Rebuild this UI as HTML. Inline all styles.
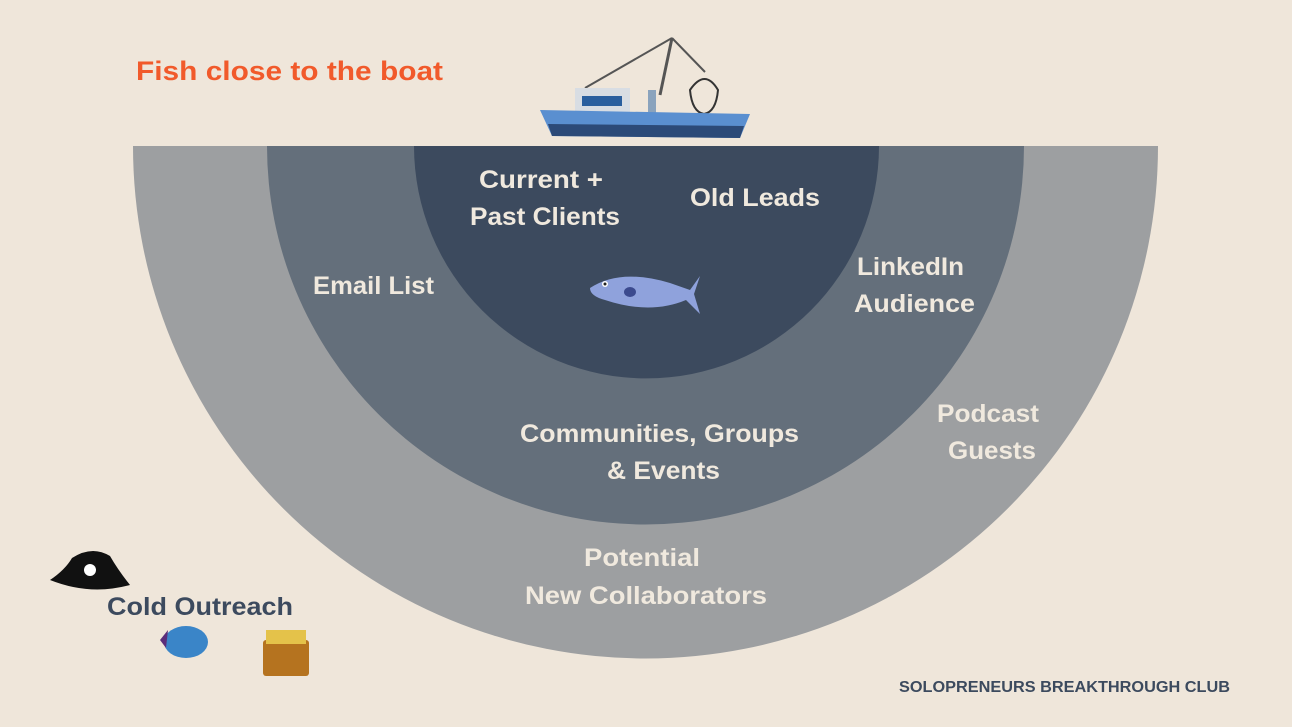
<!DOCTYPE html>
<html><head><meta charset="utf-8"><style>
html,body{margin:0;padding:0;background:#efe6da;}
svg{display:block}
text{font-family:"Liberation Sans",sans-serif;}
</style></head><body>
<svg width="1292" height="727" viewBox="0 0 1292 727" xmlns="http://www.w3.org/2000/svg">
<rect width="1292" height="727" fill="#efe6da"/>
<path d="M133 146 A512.5 512.5 0 0 0 1158 146 Z" fill="#9d9fa1"/>
<path d="M267 146 A378.5 378.5 0 0 0 1024 146 Z" fill="#646f7b"/>
<path d="M414 146 A232.5 232.5 0 0 0 879 146 Z" fill="#3c4a5e"/>
<text x="136" y="80" font-size="27" font-weight="bold" fill="#f15a2b" textLength="307" lengthAdjust="spacingAndGlyphs">Fish close to the boat</text>
<g fill="#f0e9de" font-size="25" font-weight="bold" lengthAdjust="spacingAndGlyphs">
<text x="479" y="188" textLength="124" lengthAdjust="spacingAndGlyphs">Current +</text>
<text x="470" y="225" textLength="150" lengthAdjust="spacingAndGlyphs">Past Clients</text>
<text x="690" y="206" textLength="130" lengthAdjust="spacingAndGlyphs">Old Leads</text>
<text x="313" y="294" textLength="121" lengthAdjust="spacingAndGlyphs">Email List</text>
<text x="857" y="275" textLength="107" lengthAdjust="spacingAndGlyphs">LinkedIn</text>
<text x="854" y="312" textLength="121" lengthAdjust="spacingAndGlyphs">Audience</text>
<text x="520" y="442" textLength="279" lengthAdjust="spacingAndGlyphs">Communities, Groups</text>
<text x="607" y="479" textLength="113" lengthAdjust="spacingAndGlyphs">&amp; Events</text>
<text x="937" y="422" textLength="102" lengthAdjust="spacingAndGlyphs">Podcast</text>
<text x="948" y="459" textLength="88" lengthAdjust="spacingAndGlyphs">Guests</text>
<text x="584" y="566" textLength="116" lengthAdjust="spacingAndGlyphs">Potential</text>
<text x="525" y="604" textLength="242" lengthAdjust="spacingAndGlyphs">New Collaborators</text>
</g>
<text x="107" y="615" font-size="25" font-weight="bold" fill="#3c4a5e" textLength="186" lengthAdjust="spacingAndGlyphs">Cold Outreach</text>
<text x="899" y="692" font-size="16" font-weight="bold" fill="#3c4a5e" textLength="331" lengthAdjust="spacingAndGlyphs">SOLOPRENEURS BREAKTHROUGH CLUB</text>
<!-- boat -->
<g>
<line x1="585" y1="88" x2="672" y2="38" stroke="#555" stroke-width="2"/>
<line x1="660" y1="95" x2="672" y2="38" stroke="#555" stroke-width="3"/>
<line x1="672" y1="38" x2="705" y2="72" stroke="#555" stroke-width="2"/>
<path d="M690 90 Q705 68 718 90 Q716 112 704 114 Q692 112 690 90Z" fill="none" stroke="#333" stroke-width="2"/>
<rect x="575" y="88" width="55" height="24" fill="#d8dde3"/>
<rect x="582" y="96" width="40" height="10" fill="#2a5f9e"/>
<rect x="648" y="90" width="8" height="25" fill="#8aa3bd"/>
<path d="M540 110 L750 114 L740 138 L552 136 Z" fill="#5a8fd0"/>
<path d="M548 124 L744 126 L740 138 L552 136 Z" fill="#2c4a78"/>
</g>
<!-- fish -->
<g>
<path d="M590 288 Q620 268 670 283 L690 290 L700 276 L694 294 L700 314 L686 300 Q650 315 605 300 Q590 296 590 288Z" fill="#8fa2dc"/>
<circle cx="605" cy="284" r="3" fill="#fff"/><circle cx="605" cy="284" r="1.5" fill="#222"/>
<ellipse cx="630" cy="292" rx="6" ry="5" fill="#3b4a8e"/>
</g>
<!-- pirate hat -->
<path d="M50 580 Q65 570 72 558 Q92 545 110 556 Q118 570 130 585 Q90 596 50 580Z" fill="#111"/>
<circle cx="90" cy="570" r="6" fill="#fff"/>
<!-- angler fish -->
<ellipse cx="186" cy="642" rx="22" ry="16" fill="#3a85c8"/>
<path d="M160 640 L168 630 L166 648Z" fill="#5b2d7a"/>
<!-- treasure chest -->
<rect x="263" y="640" width="46" height="36" rx="3" fill="#b5731f"/>
<rect x="266" y="630" width="40" height="14" fill="#e4c24a"/>
</svg>
</body></html>
